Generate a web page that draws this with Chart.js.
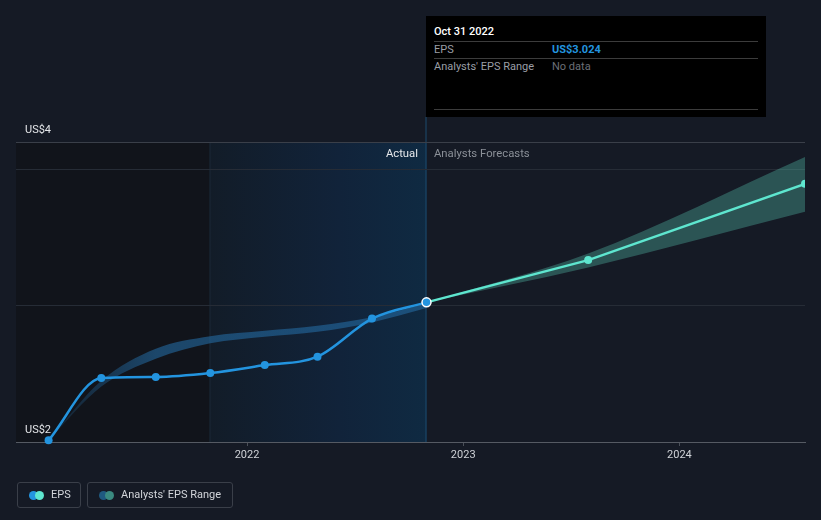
<!DOCTYPE html>
<html>
<head>
<meta charset="utf-8">
<script src="https://cdn.jsdelivr.net/npm/chart.js@4.4.1/dist/chart.umd.min.js"></script>
<style>
  html, body { margin: 0; padding: 0; background: #151a25; }
  #wrap { position: relative; width: 821px; height: 520px; font-family: Roboto, "Noto Sans", sans-serif; }
  canvas { position: absolute; left: 0; top: 0; }
  .ov { position: absolute; white-space: nowrap; }
  #tip { position: absolute; left: 426px; top: 16px; width: 340px; height: 101px; background: #000; }
  .tl { position: absolute; left: 8px; width: 324px; height: 1px; background: #3c3c3c; }
  .tt { position: absolute; font-size: 11px; line-height: 13px; white-space: nowrap; }
  .lg { position: absolute; top: 482px; height: 26px; border: 1px solid #3a3f49; border-radius: 3px; box-sizing: border-box; }
  .dot { position: absolute; top: 8px; width: 9px; height: 9px; border-radius: 50%; }
  .lt { position: absolute; top: 5px; font-size: 11px; line-height: 14px; color: #d2d5da; white-space: nowrap; }
</style>
</head>
<body>
<div id="wrap">
  <canvas id="c" width="821" height="520"></canvas>
  <div class="ov" style="right:403px; top:147px; font-size:11.3px; line-height:14px; color:#e6e8eb;">Actual</div>
  <div class="ov" style="left:434px; top:147px; font-size:11.3px; line-height:14px; color:#8b9098;">Analysts Forecasts</div>
  <div id="tip">
    <div class="tt" style="left:8px; top:9px; color:#ffffff; font-weight:500;">Oct 31 2022</div>
    <div class="tl" style="top:25px;"></div>
    <div class="tt" style="left:8px; top:27px; color:#9a9ea6;">EPS</div>
    <div class="tt" style="left:126px; top:27px; color:#2394df; font-weight:700;">US$3.024</div>
    <div class="tl" style="top:42px;"></div>
    <div class="tt" style="left:8px; top:44px; color:#9a9ea6;">Analysts' EPS Range</div>
    <div class="tt" style="left:126px; top:44px; color:#6b6f77;">No data</div>
    <div class="tl" style="top:93px;"></div>
  </div>
  <div class="lg" style="left:17px; width:64px;">
    <div class="dot" style="left:11px; background:#2394df;"></div>
    <div class="dot" style="left:17px; background:#5ee6cf;"></div>
    <div class="lt" style="left:33px;">EPS</div>
  </div>
  <div class="lg" style="left:87px; width:146px;">
    <div class="dot" style="left:11px; background:#1f5a80;"></div>
    <div class="dot" style="left:17px; background:#3a8a80;"></div>
    <div class="lt" style="left:33px;">Analysts' EPS Range</div>
  </div>
</div>
<script>
// ---- data ----
const actualDates = ['2021-01-31','2021-04-30','2021-07-31','2021-10-31','2022-01-31','2022-04-30','2022-07-31','2022-10-31'];
const epsActual = [2.012, 2.469, 2.477, 2.506, 2.564, 2.626, 2.905, 3.024];
const pastRangeLow = [2.015, 2.407, 2.611, 2.724, 2.772, 2.808, 2.877, 2.982];
const pastRangeHigh = [2.015, 2.450, 2.684, 2.775, 2.815, 2.852, 2.914, 3.018];
const forecastDates = ['2022-10-31','2023-07-31','2024-07-31'];
const epsForecast = [3.024, 3.334, 3.893];
const forecastLow = [3.024, 3.280, 3.688];
const forecastHigh = [3.024, 3.382, 4.090];
const xTickYears = [2022, 2023, 2024];
const yTickValues = [2, 3, 4, 4.2];
const yTickLabels = {2: 'US$2', 4.2: 'US$4'};
const xMinDate = '2020-12-07';
const xMaxDate = '2024-07-31';
const actualStartDate = '2021-10-31';
const actualEndDate = '2022-10-31';

const ts = d => Date.parse(d + 'T00:00:00Z');
const pts = (dates, vals) => dates.map((d, i) => ({x: ts(d), y: vals[i]}));

const shadePlugin = {
  id: 'shade',
  beforeDraw(chart) {
    const {ctx, chartArea: a, scales: {x}} = chart;
    const x0 = x.getPixelForValue(ts(actualStartDate));
    const x1 = x.getPixelForValue(ts(actualEndDate));
    ctx.save();
    ctx.fillStyle = '#11141b';
    ctx.fillRect(a.left, a.top, x0 - a.left, a.bottom - a.top);
    const g = ctx.createLinearGradient(x0, 0, x1, 0);
    g.addColorStop(0, '#121c28');
    g.addColorStop(0.6, '#11233a');
    g.addColorStop(1, '#0f2a42');
    ctx.fillStyle = g;
    ctx.fillRect(x0, a.top, x1 - x0, a.bottom - a.top);
    ctx.fillStyle = '#1a2a3b';
    ctx.fillRect(Math.round(x0) - 0.5, a.top, 1, a.bottom - a.top);
    ctx.fillStyle = '#1d4b6e';
    ctx.fillRect(Math.round(x1) - 0.5, a.top - 25, 1, a.bottom - a.top + 25);
    ctx.restore();
  }
};

function pastBandColor(context) {
  const chart = context.chart;
  const {ctx, chartArea} = chart;
  if (!chartArea) return 'rgba(35,105,160,0.55)';
  const x = chart.scales.x;
  const xa = x.getPixelForValue(ts(actualDates[0]));
  const xb = x.getPixelForValue(ts(actualDates[2]));
  const g = ctx.createLinearGradient(xa, 0, xb, 0);
  g.addColorStop(0, 'rgba(35,105,160,0.15)');
  g.addColorStop(1, 'rgba(35,105,160,0.6)');
  return g;
}

const nA = actualDates.length;
new Chart(document.getElementById('c'), {
  type: 'line',
  data: {
    datasets: [
      {
        data: pts(actualDates, epsActual),
        borderColor: '#2394df', borderWidth: 2.5,
        cubicInterpolationMode: 'monotone',
        pointRadius: actualDates.map((d, i) => i === nA - 1 ? 4.5 : 4),
        pointBackgroundColor: '#2394df',
        pointBorderColor: actualDates.map((d, i) => i === nA - 1 ? '#ffffff' : '#2394df'),
        pointBorderWidth: actualDates.map((d, i) => i === nA - 1 ? 1.5 : 0),
        fill: false, order: 1, clip: 8
      },
      {
        data: pts(forecastDates, epsForecast),
        borderColor: '#5ee6cf', borderWidth: 2.5, tension: 0,
        pointRadius: forecastDates.map((d, i) => i === 0 ? 0 : 4),
        pointBackgroundColor: '#5ee6cf', pointBorderWidth: 0,
        fill: false, order: 2
      },
      {
        data: pts(forecastDates, forecastHigh),
        borderWidth: 0, pointRadius: 0, cubicInterpolationMode: 'monotone',
        backgroundColor: 'rgba(95,220,195,0.3)',
        fill: '+1', order: 4
      },
      {
        data: pts(forecastDates, forecastLow),
        borderWidth: 0, pointRadius: 0, cubicInterpolationMode: 'monotone',
        fill: false, order: 4
      },
      {
        data: pts(actualDates, pastRangeHigh),
        borderWidth: 0, pointRadius: 0, cubicInterpolationMode: 'monotone',
        backgroundColor: pastBandColor,
        fill: '+1', order: 5
      },
      {
        data: pts(actualDates, pastRangeLow),
        borderWidth: 0, pointRadius: 0, cubicInterpolationMode: 'monotone',
        fill: false, order: 5
      }
    ]
  },
  options: {
    responsive: false,
    animation: false,
    events: [],
    layout: { padding: { left: 16, right: 16, top: 142, bottom: 0 } },
    plugins: { legend: { display: false }, tooltip: { enabled: false } },
    scales: {
      x: {
        type: 'linear',
        min: ts(xMinDate), max: ts(xMaxDate),
        afterFit: s => { s.height = 78; },
        afterBuildTicks: s => { s.ticks = xTickYears.map(y => ({value: ts(y + '-01-01')})); },
        ticks: {
          callback: v => String(new Date(v).getUTCFullYear()),
          color: '#cfd2d7', font: { family: 'Roboto', size: 11 }, padding: 3, maxRotation: 0, autoSkip: false
        },
        grid: { drawOnChartArea: false, drawTicks: true, tickLength: 4, color: '#4a4f58' },
        border: { display: true, color: '#555a63', width: 1 }
      },
      y: {
        type: 'linear',
        min: 2, max: 4.2,
        afterFit: s => { s.width = 0; },
        afterBuildTicks: s => { s.ticks = yTickValues.map(v => ({value: v})); },
        ticks: {
          mirror: true, padding: 9, labelOffset: -12,
          callback: v => yTickLabels[v] || '',
          color: '#e4e6e9', font: { family: 'Roboto', size: 11 }, autoSkip: false
        },
        grid: {
          drawTicks: false,
          color: c => {
            const v = c.tick && c.tick.value;
            if (v === 4.2) return '#3a3f49';
            if (v === 2) return '#555a63';
            return '#262c36';
          }
        },
        border: { display: false }
      }
    }
  },
  plugins: [shadePlugin]
});
</script>
</body>
</html>
